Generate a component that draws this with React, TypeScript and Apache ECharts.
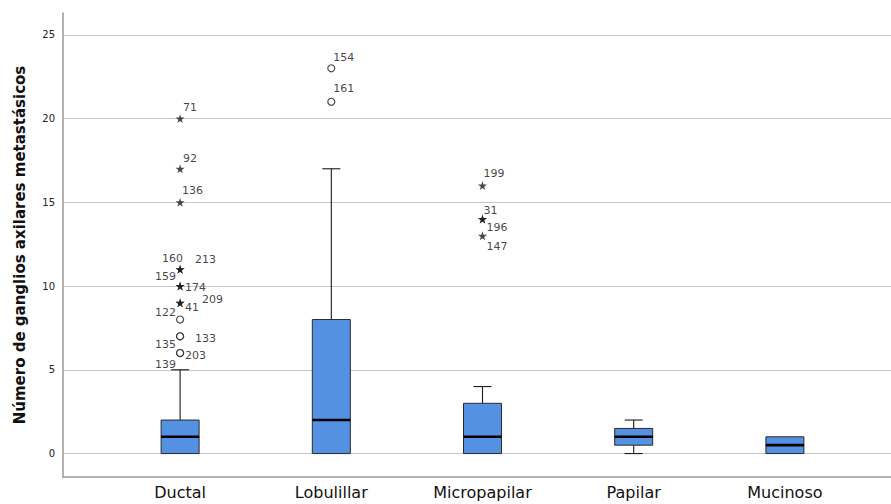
import React, { useEffect, useRef } from "react";
import * as echarts from "echarts";

// Tumour types on the category axis
const categories = ["Ductal", "Lobulillar", "Micropapilar", "Papilar", "Mucinoso"];

// Box-plot summaries per category
const whiskerLow = [0, 0, 0, 0, 0];
const q1 = [0, 0, 0, 0.5, 0];
const medians = [1, 2, 1, 1, 0.5];
const q3 = [2, 8, 3, 1.5, 1];
const whiskerHigh = [5, 17, 4, 2, 1];

// Outliers (circles) with case numbers
const circleCats = ["Ductal", "Ductal", "Ductal", "Ductal", "Ductal", "Lobulillar", "Lobulillar"];
const circleValues = [8, 7, 7, 6, 6, 23, 21];
const circleIds = [122, 135, 133, 203, 139, 154, 161];

// Extreme values (stars) with case numbers
const starCats = [
  "Ductal", "Ductal", "Ductal", "Ductal", "Ductal", "Ductal", "Ductal", "Ductal", "Ductal",
  "Micropapilar", "Micropapilar", "Micropapilar", "Micropapilar",
];
const starValues = [20, 17, 15, 11, 11, 10, 10, 9, 9, 16, 14, 14, 13];
const starIds = [71, 92, 136, 160, 213, 159, 174, 41, 209, 199, 31, 196, 147];

// Y-axis tick labels
const yTicks = [0, 5, 10, 15, 20, 25];

// Where each case-number label sits relative to its marker (px)
const labelOffsets: Record<number, [number, number]> = {
  71: [3, -11], 92: [3, -10], 136: [2, -12],
  160: [-18, -11], 213: [15, -10],
  159: [-25, -10], 174: [5, 1],
  41: [5, 5], 209: [22, -3],
  122: [-25, -7], 135: [-25, 8], 133: [15, 2],
  203: [5, 2], 139: [-25, 11],
  154: [2, -11], 161: [2, -13],
  199: [1, -12], 31: [1, -9], 196: [4, 8], 147: [4, 11],
};

const STAR = "path://M50,0 L61,35 L98,35 L68,57 L79,91 L50,70 L21,91 L32,57 L2,35 L39,35 Z";
const FONT = "DejaVu Sans";
const Y_MIN = -1.4;
const Y_MAX = 26.3;

function outlierData(cats: string[], values: number[], ids: number[]) {
  return cats.map((c, i) => {
    const off = labelOffsets[ids[i]] || [4, -10];
    return {
      value: [c, values[i]],
      id: ids[i],
      label: { offset: off },
    };
  });
}

export default function App() {
  const ref = useRef<HTMLDivElement>(null);

  useEffect(() => {
    if (!ref.current) return;
    const chart = echarts.init(ref.current, null, { renderer: "svg" });

    const boxData = categories.map((_, i) => [i, whiskerLow[i], q1[i], medians[i], q3[i], whiskerHigh[i]]);

    const labelStyle = {
      show: true,
      position: "inside" as const,
      align: "left" as const,
      verticalAlign: "middle" as const,
      color: "#111111",
      fontFamily: FONT,
      fontSize: 11,
      formatter: (p: any) => String(p.data.id),
    };

    chart.setOption({
      animation: false,
      backgroundColor: "#ffffff",
      grid: [
        { left: 63, right: 0, top: 13, bottom: 27 },
        { left: 104.5, right: 30.5, top: 13, bottom: 27 },
      ],
      xAxis: [
        {
          gridIndex: 0,
          type: "value",
          min: 0,
          max: 1,
          axisLine: { show: true, onZero: false, lineStyle: { color: "#999999", width: 1.5 } },
          axisTick: { show: false },
          axisLabel: { show: false },
          splitLine: { show: false },
        },
        {
          gridIndex: 1,
          type: "category",
          data: categories,
          axisLine: { show: false },
          axisTick: { show: false },
          splitLine: { show: false },
          axisLabel: { color: "#111111", fontFamily: FONT, fontSize: 16, margin: 7 },
        },
      ],
      yAxis: [
        {
          gridIndex: 0,
          type: "value",
          min: Y_MIN,
          max: Y_MAX,
          minInterval: 5,
          maxInterval: 5,
          name: "Número de ganglios axilares metastásicos",
          nameLocation: "middle",
          nameGap: 36,
          nameTextStyle: { fontFamily: FONT, fontWeight: "bold", fontSize: 15, color: "#111111" },
          axisLine: { show: true, onZero: false, lineStyle: { color: "#999999", width: 1.5 } },
          axisTick: { show: false },
          axisLabel: {
            color: "#222222",
            fontFamily: FONT,
            fontSize: 10,
            margin: 8,
            showMinLabel: false,
            showMaxLabel: false,
            formatter: (v: number) => (yTicks.includes(v) ? String(v) : ""),
          },
          splitLine: {
            show: true,
            showMinLine: false,
            showMaxLine: false,
            lineStyle: { color: "#c6c6c6", width: 1 },
          },
        },
        {
          gridIndex: 1,
          type: "value",
          min: Y_MIN,
          max: Y_MAX,
          show: false,
          splitLine: { show: false },
        },
      ],
      series: [
        {
          type: "custom",
          xAxisIndex: 1,
          yAxisIndex: 1,
          encode: { x: 0, y: [1, 2, 3, 4, 5] },
          data: boxData,
          z: 3,
          renderItem: (params: any, api: any) => {
            const idx = api.value(0);
            const pLo = api.coord([idx, api.value(1)]);
            const pQ1 = api.coord([idx, api.value(2)]);
            const pMed = api.coord([idx, api.value(3)]);
            const pQ3 = api.coord([idx, api.value(4)]);
            const pHi = api.coord([idx, api.value(5)]);
            const cx = pQ1[0];
            const half = 19;
            const cap = 9;
            const stroke = { stroke: "#1a1a1a", lineWidth: 1.1 };
            const children: any[] = [];
            if (pHi[1] < pQ3[1] - 0.5) {
              children.push({ type: "line", shape: { x1: cx, y1: pQ3[1], x2: cx, y2: pHi[1] }, style: stroke });
              children.push({ type: "line", shape: { x1: cx - cap, y1: pHi[1], x2: cx + cap, y2: pHi[1] }, style: stroke });
            }
            if (pLo[1] > pQ1[1] + 0.5) {
              children.push({ type: "line", shape: { x1: cx, y1: pQ1[1], x2: cx, y2: pLo[1] }, style: stroke });
              children.push({ type: "line", shape: { x1: cx - cap, y1: pLo[1], x2: cx + cap, y2: pLo[1] }, style: stroke });
            }
            children.push({
              type: "rect",
              shape: { x: cx - half, y: pQ3[1], width: half * 2, height: pQ1[1] - pQ3[1] },
              style: { fill: "#5591e3", stroke: "#2a2a2a", lineWidth: 1 },
            });
            children.push({
              type: "line",
              shape: { x1: cx - half, y1: pMed[1], x2: cx + half, y2: pMed[1] },
              style: { stroke: "#000000", lineWidth: 2.6 },
            });
            return { type: "group", children };
          },
        },
        {
          type: "scatter",
          xAxisIndex: 1,
          yAxisIndex: 1,
          symbol: "circle",
          symbolSize: 7,
          z: 5,
          itemStyle: { color: "#ffffff", borderColor: "#1e1e1e", borderWidth: 1.2 },
          label: labelStyle,
          data: outlierData(circleCats, circleValues, circleIds),
        },
        {
          type: "scatter",
          xAxisIndex: 1,
          yAxisIndex: 1,
          symbol: STAR,
          symbolSize: 9,
          z: 5,
          itemStyle: { color: "#1a1a1a" },
          label: labelStyle,
          data: outlierData(starCats, starValues, starIds),
        },
      ],
    });

    return () => chart.dispose();
  }, []);

  return <div ref={ref} style={{ width: 891, height: 504, position: "absolute", left: 0, top: 0 }} />;
}
